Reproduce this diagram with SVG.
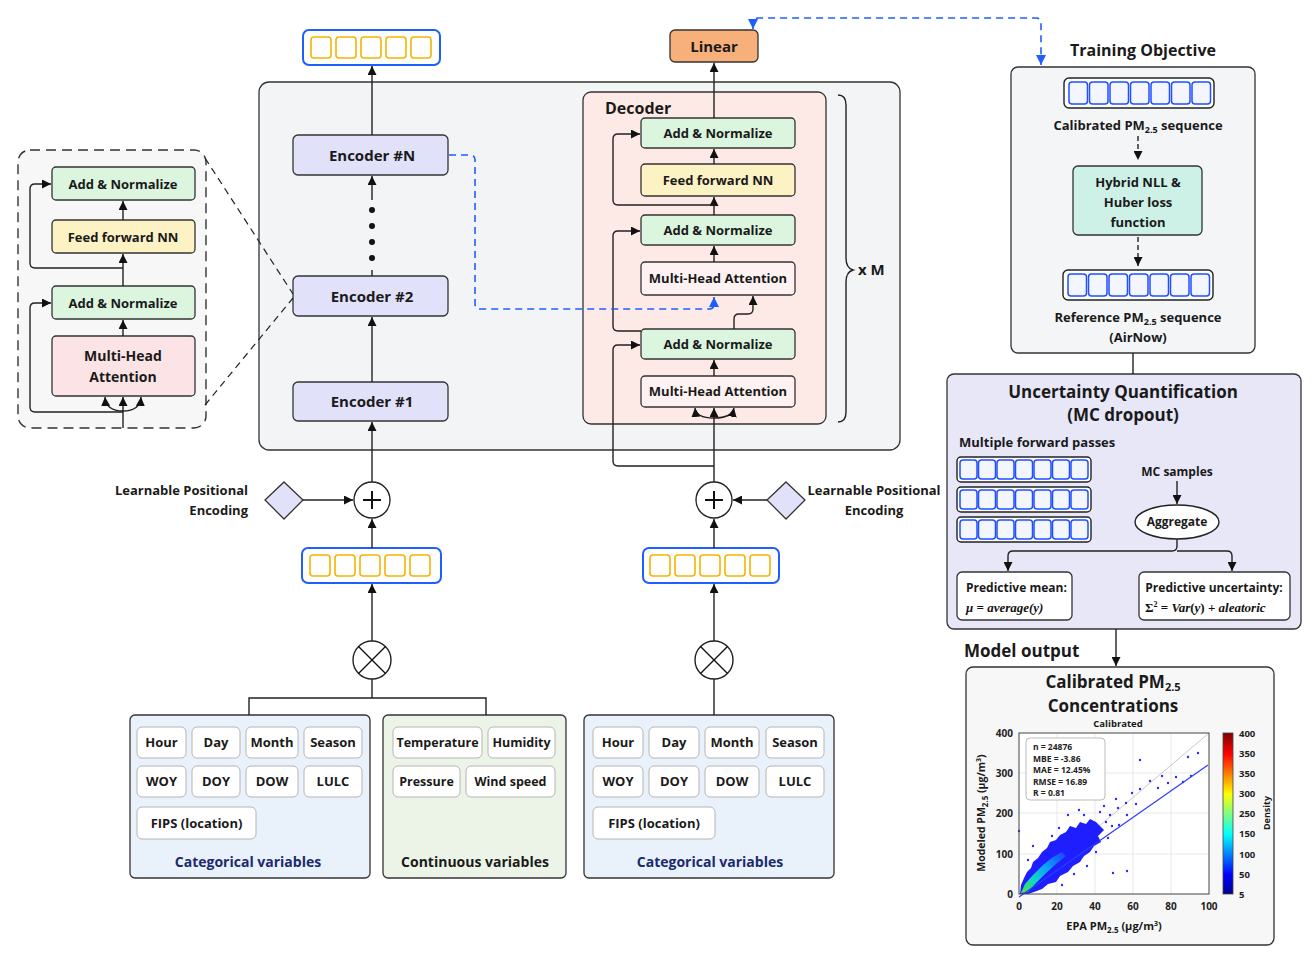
<svg xmlns="http://www.w3.org/2000/svg" width="1315" height="960" viewBox="0 0 1315 960">
<defs>
<style>
.t{font-family:"Open Sans","Noto Sans",sans-serif;font-weight:700;fill:#1a1a1a;text-anchor:middle}
.box{stroke:#333;stroke-width:1.3}
.ln{stroke:#222;stroke-width:1.4;fill:none}
.bl{stroke:#1f5fff;stroke-width:1.6;fill:none;stroke-dasharray:7,5}
.green{fill:#dcf5df}
.yel{fill:#fdf2c4}
.enc{fill:#e1e1fa}
.chip{fill:#fff;stroke:#b5b5b5;stroke-width:1}
.ysq{fill:#fff;stroke:#f5b400;stroke-width:1.6}
.bsq{fill:#f4f6ff;stroke:#1f4fff;stroke-width:1.5}
.seqY{fill:#fff;stroke:#1f5fff;stroke-width:2}
.seqK{fill:#fff;stroke:#222;stroke-width:1.4}
.grid{stroke:#e2e2e2;stroke-width:0.8}
.tick{font-family:"Open Sans","Noto Sans",sans-serif;font-weight:700;font-size:10px;fill:#222}
</style>
<marker id="ar" viewBox="0 0 10 10" refX="10" refY="5" markerWidth="9" markerHeight="9" markerUnits="userSpaceOnUse" orient="auto-start-reverse"><path d="M0,0 L10,5 L0,10 z" fill="#111"/></marker>
<marker id="arb" viewBox="0 0 10 10" refX="10" refY="5" markerWidth="10" markerHeight="10" markerUnits="userSpaceOnUse" orient="auto-start-reverse"><path d="M0,0 L10,5 L0,10 z" fill="#1f5fff"/></marker>
<linearGradient id="jet" x1="0" y1="1" x2="0" y2="0">
<stop offset="0" stop-color="#00008f"/><stop offset="0.12" stop-color="#0000ff"/><stop offset="0.37" stop-color="#00ffff"/><stop offset="0.5" stop-color="#80ff80"/><stop offset="0.62" stop-color="#ffff00"/><stop offset="0.87" stop-color="#ff0000"/><stop offset="1" stop-color="#800000"/>
</linearGradient>
<linearGradient id="blob" x1="0" y1="1" x2="1" y2="0">
<stop offset="0" stop-color="#50e040"/><stop offset="0.3" stop-color="#10d8c0"/><stop offset="0.6" stop-color="#10a0ff"/><stop offset="1" stop-color="#1a3cff"/>
</linearGradient>
</defs>
<rect width="1315" height="960" fill="#fff"/>

<g id="main-box"><rect x="259" y="82" width="641" height="368" rx="10" fill="#f3f4f5" class="box"/></g>

<g id="decoder"><rect x="583" y="92" width="243" height="332" rx="8" fill="#fde9e5" class="box"/>
<text x="605" y="114" class="t" style="text-anchor:start;font-size:16px">Decoder</text></g>
<g id="brace"><path d="M838,95 Q846,95 846,105 L846,258 Q846,268 853,270 Q846,272 846,282 L846,412 Q846,422 838,422" class="ln"/>
<text x="858" y="275" class="t" style="text-anchor:start;font-size:15px">x M</text></g>

<g id="enc-out"><rect x="303" y="30" width="137" height="35" rx="6" class="seqY"/>
<rect x="311" y="37" width="20" height="21" rx="3" class="ysq"/><rect x="336" y="37" width="20" height="21" rx="3" class="ysq"/><rect x="361" y="37" width="20" height="21" rx="3" class="ysq"/><rect x="386" y="37" width="20" height="21" rx="3" class="ysq"/><rect x="411" y="37" width="20" height="21" rx="3" class="ysq"/></g>

<g id="linear"><rect x="670" y="30" width="88" height="32" rx="5" fill="#f7b07a" class="box"/><text x="714" y="52" class="t" style="font-size:15px">Linear</text></g>

<g id="encN"><rect x="293" y="135" width="155" height="40" rx="5" class="enc box"/><text x="372" y="161" class="t" style="font-size:15px">Encoder #N</text></g>
<g id="enc2"><rect x="293" y="276" width="155" height="40" rx="5" class="enc box"/><text x="372" y="302" class="t" style="font-size:15px">Encoder #2</text></g>
<g id="enc1"><rect x="293" y="382" width="155" height="39" rx="5" class="enc box"/><text x="372" y="407" class="t" style="font-size:15px">Encoder #1</text></g>
<g id="dots" fill="#111"><circle cx="372" cy="210" r="3"/><circle cx="372" cy="226" r="3"/><circle cx="372" cy="242" r="3"/><circle cx="372" cy="258" r="3"/></g>

<g id="d-an1"><rect x="641" y="118" width="154" height="30" rx="4" class="green box"/><text x="718" y="138" class="t" style="font-size:13px">Add &amp; Normalize</text></g>
<g id="d-ff"><rect x="641" y="164" width="154" height="32" rx="4" class="yel box"/><text x="718" y="185" class="t" style="font-size:13px">Feed forward NN</text></g>
<g id="d-an2"><rect x="641" y="215" width="154" height="30" rx="4" class="green box"/><text x="718" y="235" class="t" style="font-size:13px">Add &amp; Normalize</text></g>
<g id="d-mha2"><rect x="641" y="262" width="154" height="33" rx="4" fill="#fdf2f1" class="box"/><text x="718" y="283" class="t" style="font-size:13px">Multi-Head Attention</text></g>
<g id="d-an3"><rect x="641" y="329" width="154" height="30" rx="4" class="green box"/><text x="718" y="349" class="t" style="font-size:13px">Add &amp; Normalize</text></g>
<g id="d-mha1"><rect x="641" y="376" width="154" height="31" rx="4" fill="#fdf2f1" class="box"/><text x="718" y="396" class="t" style="font-size:13px">Multi-Head Attention</text></g>

<g id="enc-detail"><rect x="18" y="150" width="188" height="278" rx="12" fill="#f7f7f8" stroke="#333" stroke-width="1.4" stroke-dasharray="10,6"/></g>
<g id="e-an1"><rect x="52" y="167" width="143" height="33" rx="4" class="green box"/><text x="123" y="189" class="t" style="font-size:13px">Add &amp; Normalize</text></g>
<g id="e-ff"><rect x="52" y="220" width="143" height="33" rx="4" class="yel box"/><text x="123" y="242" class="t" style="font-size:13px">Feed forward NN</text></g>
<g id="e-an2"><rect x="52" y="286" width="143" height="33" rx="4" class="green box"/><text x="123" y="308" class="t" style="font-size:13px">Add &amp; Normalize</text></g>
<g id="e-mha"><rect x="52" y="336" width="143" height="60" rx="4" fill="#fbe3e6" class="box"/><text x="123" y="361" class="t" style="font-size:14px">Multi-Head</text><text x="123" y="382" class="t" style="font-size:14px">Attention</text></g>

<g id="plusL"><circle cx="372" cy="500" r="18" fill="#fff" stroke="#222" stroke-width="1.4"/><path d="M363,500 H381 M372,491 V509" stroke="#111" stroke-width="2"/></g>
<g id="plusR"><circle cx="714" cy="500" r="18" fill="#fff" stroke="#222" stroke-width="1.4"/><path d="M705,500 H723 M714,491 V509" stroke="#111" stroke-width="2"/></g>
<g id="posL"><path d="M284,482 L303,500 L284,519 L265,500 Z" fill="#e1e1fa" class="box"/>
<text x="248" y="495" class="t" style="text-anchor:end;font-size:13px">Learnable Positional</text><text x="248" y="515" class="t" style="text-anchor:end;font-size:13px">Encoding</text></g>
<g id="posR"><path d="M786,482 L805,500 L786,519 L767,500 Z" fill="#e1e1fa" class="box"/>
<text x="874" y="495" class="t" style="font-size:13px">Learnable Positional</text><text x="874" y="515" class="t" style="font-size:13px">Encoding</text></g>

<g id="inL"><rect x="302" y="548" width="139" height="35" rx="6" class="seqY"/>
<rect x="310" y="555" width="20" height="21" rx="3" class="ysq"/><rect x="335" y="555" width="20" height="21" rx="3" class="ysq"/><rect x="360" y="555" width="20" height="21" rx="3" class="ysq"/><rect x="385" y="555" width="20" height="21" rx="3" class="ysq"/><rect x="410" y="555" width="20" height="21" rx="3" class="ysq"/></g>
<g id="inR"><rect x="643" y="548" width="136" height="35" rx="6" class="seqY"/>
<rect x="650" y="555" width="20" height="21" rx="3" class="ysq"/><rect x="675" y="555" width="20" height="21" rx="3" class="ysq"/><rect x="700" y="555" width="20" height="21" rx="3" class="ysq"/><rect x="725" y="555" width="20" height="21" rx="3" class="ysq"/><rect x="750" y="555" width="20" height="21" rx="3" class="ysq"/></g>

<g id="otL"><circle cx="372" cy="660" r="19" fill="#fff" stroke="#222" stroke-width="1.4"/><path d="M358.5,646.5 L385.5,673.5 M385.5,646.5 L358.5,673.5" stroke="#111" stroke-width="1.4"/></g>
<g id="otR"><circle cx="714" cy="660" r="19" fill="#fff" stroke="#222" stroke-width="1.4"/><path d="M700.5,646.5 L727.5,673.5 M727.5,646.5 L700.5,673.5" stroke="#111" stroke-width="1.4"/></g>

<g id="catL"><rect x="130" y="715" width="240" height="163" rx="5" fill="#e9f1fb" class="box"/>
<rect x="137" y="727" width="49" height="31" rx="5" class="chip"/><text x="161.5" y="747" class="t" style="font-size:13px">Hour</text>
<rect x="192" y="727" width="48" height="31" rx="5" class="chip"/><text x="216" y="747" class="t" style="font-size:13px">Day</text>
<rect x="246" y="727" width="52" height="31" rx="5" class="chip"/><text x="272" y="747" class="t" style="font-size:13px">Month</text>
<rect x="304" y="727" width="58" height="31" rx="5" class="chip"/><text x="333" y="747" class="t" style="font-size:13px">Season</text>
<rect x="137" y="766" width="49" height="31" rx="5" class="chip"/><text x="161.5" y="786" class="t" style="font-size:13px">WOY</text>
<rect x="192" y="766" width="48" height="31" rx="5" class="chip"/><text x="216" y="786" class="t" style="font-size:13px">DOY</text>
<rect x="246" y="766" width="52" height="31" rx="5" class="chip"/><text x="272" y="786" class="t" style="font-size:13px">DOW</text>
<rect x="304" y="766" width="58" height="31" rx="5" class="chip"/><text x="333" y="786" class="t" style="font-size:13px">LULC</text>
<rect x="137" y="807" width="119" height="32" rx="5" class="chip"/><text x="196.5" y="828" class="t" style="font-size:13px">FIPS (location)</text>
<text x="248" y="867" class="t" style="font-size:14px;fill:#1c2a6e">Categorical variables</text></g>

<g id="cont"><rect x="383" y="715" width="183" height="163" rx="5" fill="#ebf4e6" class="box"/>
<rect x="393" y="727" width="89" height="31" rx="5" class="chip"/><text x="437.5" y="747" class="t" style="font-size:12.5px">Temperature</text>
<rect x="488" y="727" width="67" height="31" rx="5" class="chip"/><text x="521.5" y="747" class="t" style="font-size:12.5px">Humidity</text>
<rect x="393" y="766" width="67" height="31" rx="5" class="chip"/><text x="426.5" y="786" class="t" style="font-size:12.5px">Pressure</text>
<rect x="466" y="766" width="89" height="31" rx="5" class="chip"/><text x="510.5" y="786" class="t" style="font-size:12.5px">Wind speed</text>
<text x="475" y="867" class="t" style="font-size:14px">Continuous variables</text></g>

<g id="catR"><rect x="584" y="715" width="250" height="163" rx="5" fill="#e9f1fb" class="box"/>
<rect x="593" y="727" width="50" height="31" rx="5" class="chip"/><text x="618" y="747" class="t" style="font-size:13px">Hour</text>
<rect x="649" y="727" width="50" height="31" rx="5" class="chip"/><text x="674" y="747" class="t" style="font-size:13px">Day</text>
<rect x="705" y="727" width="54" height="31" rx="5" class="chip"/><text x="732" y="747" class="t" style="font-size:13px">Month</text>
<rect x="766" y="727" width="58" height="31" rx="5" class="chip"/><text x="795" y="747" class="t" style="font-size:13px">Season</text>
<rect x="593" y="766" width="50" height="31" rx="5" class="chip"/><text x="618" y="786" class="t" style="font-size:13px">WOY</text>
<rect x="649" y="766" width="50" height="31" rx="5" class="chip"/><text x="674" y="786" class="t" style="font-size:13px">DOY</text>
<rect x="705" y="766" width="54" height="31" rx="5" class="chip"/><text x="732" y="786" class="t" style="font-size:13px">DOW</text>
<rect x="766" y="766" width="58" height="31" rx="5" class="chip"/><text x="795" y="786" class="t" style="font-size:13px">LULC</text>
<rect x="593" y="807" width="122" height="32" rx="5" class="chip"/><text x="654" y="828" class="t" style="font-size:13px">FIPS (location)</text>
<text x="710" y="867" class="t" style="font-size:14px;fill:#1c2a6e">Categorical variables</text></g>

<g id="training"><text x="1143" y="56" class="t" style="font-size:16px">Training Objective</text>
<rect x="1011" y="67" width="244" height="286" rx="7" fill="#f4f5f6" class="box"/>
<rect x="1064" y="78" width="150" height="30" rx="5" class="seqK"/>
<g class="bsq"><rect x="1069" y="82" width="18.5" height="22" rx="3"/><rect x="1089.5" y="82" width="18.5" height="22" rx="3"/><rect x="1110" y="82" width="18.5" height="22" rx="3"/><rect x="1130.5" y="82" width="18.5" height="22" rx="3"/><rect x="1151" y="82" width="18.5" height="22" rx="3"/><rect x="1171.5" y="82" width="18.5" height="22" rx="3"/><rect x="1192" y="82" width="18.5" height="22" rx="3"/></g>
<text x="1138" y="130" class="t" style="font-size:13px">Calibrated PM<tspan font-size="9" dy="3">2.5</tspan><tspan dy="-3"> sequence</tspan></text>
<rect x="1073" y="166" width="129" height="69" rx="5" fill="#cdf1e7" class="box"/>
<text x="1138" y="187" class="t" style="font-size:13px">Hybrid NLL &amp;</text><text x="1138" y="207" class="t" style="font-size:13px">Huber loss</text><text x="1138" y="227" class="t" style="font-size:13px">function</text>
<rect x="1063" y="270" width="150" height="30" rx="5" class="seqK"/>
<g class="bsq"><rect x="1068" y="274" width="18.5" height="22" rx="3"/><rect x="1088.5" y="274" width="18.5" height="22" rx="3"/><rect x="1109" y="274" width="18.5" height="22" rx="3"/><rect x="1129.5" y="274" width="18.5" height="22" rx="3"/><rect x="1150" y="274" width="18.5" height="22" rx="3"/><rect x="1170.5" y="274" width="18.5" height="22" rx="3"/><rect x="1191" y="274" width="18.5" height="22" rx="3"/></g>
<text x="1138" y="322" class="t" style="font-size:13px">Reference PM<tspan font-size="9" dy="3">2.5</tspan><tspan dy="-3"> sequence</tspan></text>
<text x="1138" y="342" class="t" style="font-size:13px">(AirNow)</text></g>

<g id="uncertainty"><rect x="947" y="374" width="354" height="255" rx="7" fill="#e7e7f8" class="box"/>
<text x="1123" y="398" class="t" style="font-size:17px">Uncertainty Quantification</text>
<text x="1123" y="421" class="t" style="font-size:17px">(MC dropout)</text>
<text x="959" y="447" class="t" style="text-anchor:start;font-size:13px">Multiple forward passes</text>
<rect x="957" y="457" width="134" height="25" rx="4" class="seqK"/>
<rect x="957" y="487" width="134" height="25" rx="4" class="seqK"/>
<rect x="957" y="517" width="134" height="25" rx="4" class="seqK"/>
<g class="bsq">
<rect x="960" y="460" width="17" height="19" rx="3"/><rect x="978.5" y="460" width="17" height="19" rx="3"/><rect x="997" y="460" width="17" height="19" rx="3"/><rect x="1015.5" y="460" width="17" height="19" rx="3"/><rect x="1034" y="460" width="17" height="19" rx="3"/><rect x="1052.5" y="460" width="17" height="19" rx="3"/><rect x="1071" y="460" width="17" height="19" rx="3"/>
<rect x="960" y="490" width="17" height="19" rx="3"/><rect x="978.5" y="490" width="17" height="19" rx="3"/><rect x="997" y="490" width="17" height="19" rx="3"/><rect x="1015.5" y="490" width="17" height="19" rx="3"/><rect x="1034" y="490" width="17" height="19" rx="3"/><rect x="1052.5" y="490" width="17" height="19" rx="3"/><rect x="1071" y="490" width="17" height="19" rx="3"/>
<rect x="960" y="520" width="17" height="19" rx="3"/><rect x="978.5" y="520" width="17" height="19" rx="3"/><rect x="997" y="520" width="17" height="19" rx="3"/><rect x="1015.5" y="520" width="17" height="19" rx="3"/><rect x="1034" y="520" width="17" height="19" rx="3"/><rect x="1052.5" y="520" width="17" height="19" rx="3"/><rect x="1071" y="520" width="17" height="19" rx="3"/>
</g>
<text x="1177" y="476" class="t" style="font-size:12px">MC samples</text>
<ellipse cx="1177" cy="522" rx="42" ry="17" fill="#fff" stroke="#222" stroke-width="1.4"/>
<text x="1177" y="526" class="t" style="font-size:12px">Aggregate</text>
<rect x="957" y="572" width="115" height="48" rx="5" fill="#fff" class="box"/>
<text x="966" y="592" class="t" style="text-anchor:start;font-size:12px">Predictive mean:</text>
<text x="966" y="612" style="font-family:'Liberation Serif',serif;font-style:italic;font-weight:bold;font-size:13px;fill:#111">μ = average(y)</text>
<rect x="1139" y="572" width="151" height="48" rx="5" fill="#fff" class="box"/>
<text x="1214" y="592" class="t" style="font-size:12px">Predictive uncertainty:</text>
<text x="1145" y="612" style="font-family:'Liberation Serif',serif;font-weight:bold;font-size:13px;fill:#111">Σ<tspan font-size="8" dy="-5">2</tspan><tspan dy="5"> = </tspan><tspan font-style="italic">Var</tspan>(<tspan font-style="italic">y</tspan>) + <tspan font-style="italic">aleatoric</tspan></text></g>

<g id="model-output"><text x="964" y="657" class="t" style="text-anchor:start;font-size:17px">Model output</text>
<rect x="966" y="667" width="308" height="278" rx="7" fill="#f7f7f7" class="box"/>
<text x="1113" y="688" class="t" style="font-size:17px">Calibrated PM<tspan font-size="11" dy="3">2.5</tspan></text>
<text x="1113" y="712" class="t" style="font-size:17px">Concentrations</text>
<text x="1118" y="727" class="t" style="font-size:9.5px">Calibrated</text>
<rect x="1019" y="733" width="190" height="161" fill="#fff"/>
<g class="grid"><path d="M1057,733 V894 M1095,733 V894 M1133,733 V894 M1171,733 V894 M1019,773 H1209 M1019,813 H1209 M1019,854 H1209"/></g>
<line x1="1019" y1="894" x2="1209" y2="733" stroke="#c8c8c8" stroke-width="1"/>
<path d="M1020,894 L1021,885 L1024,878 L1027,872 L1031,868 L1033,862 L1038,858 L1042,852 L1047,848 L1050,842 L1056,840 L1060,835 L1066,832 L1070,826 L1076,828 L1080,822 L1086,824 L1090,819 L1096,822 L1100,826 L1104,830 L1098,836 L1101,842 L1094,846 L1090,852 L1084,856 L1080,862 L1073,866 L1068,872 L1060,876 L1056,882 L1048,884 L1042,889 L1034,892 L1028,894 Z" fill="#1e1eff"/>
<path d="M1021,893 L1025,884 L1033,875 L1043,865 L1053,857 L1062,852 L1066,856 L1056,864 L1045,874 L1035,884 L1028,892 Z" fill="url(#blob)"/>
<g fill="#2a2aff"><circle cx="1110" cy="815" r="1.2"/><circle cx="1118" cy="808" r="1.2"/><circle cx="1126" cy="803" r="1.2"/><circle cx="1132" cy="793" r="1.2"/><circle cx="1140" cy="789" r="1.2"/><circle cx="1150" cy="781" r="1.2"/><circle cx="1158" cy="788" r="1.2"/><circle cx="1162" cy="776" r="1.2"/><circle cx="1168" cy="783" r="1.2"/><circle cx="1176" cy="777" r="1.2"/><circle cx="1188" cy="757" r="1.2"/><circle cx="1198" cy="753" r="1.2"/><circle cx="1191" cy="776" r="1.2"/><circle cx="1183" cy="782" r="1.2"/><circle cx="1127" cy="815" r="1.2"/><circle cx="1119" cy="825" r="1.2"/><circle cx="1113" cy="873" r="1.2"/><circle cx="1127" cy="871" r="1.2"/><circle cx="1140" cy="760" r="1.2"/><circle cx="1116" cy="799" r="1.2"/><circle cx="1100" cy="812" r="1.2"/><circle cx="1068" cy="815" r="1.2"/><circle cx="1033" cy="846" r="1.2"/><circle cx="1019" cy="831" r="1.2"/><circle cx="1104" cy="806" r="1.2"/><circle cx="1136" cy="804" r="1.2"/><circle cx="1108" cy="838" r="1.2"/><circle cx="1112" cy="826" r="1.2"/><circle cx="1084" cy="815" r="1.2"/><circle cx="1059" cy="828" r="1.2"/><circle cx="1052" cy="836" r="1.2"/><circle cx="1028" cy="860" r="1.2"/><circle cx="1087" cy="866" r="1.2"/><circle cx="1074" cy="874" r="1.2"/><circle cx="1096" cy="852" r="1.2"/><circle cx="1062" cy="885" r="1.2"/><circle cx="1079" cy="810" r="1.2"/><circle cx="1106" cy="822" r="1.2"/></g>
<line x1="1019" y1="897" x2="1208" y2="765" stroke="#2a3cff" stroke-width="1.2"/>
<rect x="1026" y="738" width="79" height="62" rx="4" fill="#fff" stroke="#bdbdbd" stroke-width="1"/>
<g style="font-family:'Open Sans','Noto Sans',sans-serif;font-weight:700;font-size:8.5px;fill:#222"><text x="1033" y="750">n = 24876</text><text x="1033" y="761.5">MBE = -3.86</text><text x="1033" y="773">MAE = 12.45%</text><text x="1033" y="784.5">RMSE = 16.89</text><text x="1033" y="796">R = 0.81</text></g>
<rect x="1019" y="733" width="190" height="161" fill="none" stroke="#444" stroke-width="1"/>
<g class="tick" text-anchor="end"><text x="1013" y="737">400</text><text x="1013" y="777">300</text><text x="1013" y="817">200</text><text x="1013" y="858">100</text><text x="1013" y="898">0</text></g>
<g class="tick" text-anchor="middle"><text x="1019" y="910">0</text><text x="1057" y="910">20</text><text x="1095" y="910">40</text><text x="1133" y="910">60</text><text x="1171" y="910">80</text><text x="1209" y="910">100</text></g>
<text x="0" y="0" transform="translate(985,813) rotate(-90)" class="t" style="font-size:10.5px">Modeled PM<tspan font-size="8" dy="2.5">2.5</tspan><tspan dy="-2.5"> (μg/m</tspan><tspan font-size="7" dy="-4">3</tspan><tspan dy="4">)</tspan></text>
<text x="1114" y="930" class="t" style="font-size:11px">EPA PM<tspan font-size="8" dy="2.5">2.5</tspan><tspan dy="-2.5"> (μg/m</tspan><tspan font-size="7" dy="-4">3</tspan><tspan dy="4">)</tspan></text>
<rect x="1223" y="733" width="10" height="161" fill="url(#jet)" stroke="#444" stroke-width="0.8"/>
<g class="tick" style="font-size:9.5px"><text x="1239" y="737">400</text><text x="1239" y="757">350</text><text x="1239" y="777">350</text><text x="1239" y="797">300</text><text x="1239" y="817">250</text><text x="1239" y="837">150</text><text x="1239" y="858">100</text><text x="1239" y="878">50</text><text x="1239" y="898">5</text></g>
<text x="0" y="0" transform="translate(1270,813) rotate(-90)" class="t" style="font-size:9px">Density</text></g>

<g id="connectors">
<path d="M372,135 V66" class="ln" marker-end="url(#ar)"/>
<path d="M372,200 V176" class="ln" marker-end="url(#ar)"/>
<path d="M372,276 V270" class="ln"/>
<path d="M372,382 V317" class="ln" marker-end="url(#ar)"/>
<path d="M372,482 V422" class="ln" marker-end="url(#ar)"/>
<path d="M372,548 V519" class="ln" marker-end="url(#ar)"/>
<path d="M303,500 H353" class="ln" marker-end="url(#ar)"/>
<path d="M372,641 V584" class="ln" marker-end="url(#ar)"/>
<path d="M372,679 V698 M249,715 V698 H486 V715" class="ln"/>
<path d="M714,548 V519" class="ln" marker-end="url(#ar)"/>
<path d="M767,500 H733" class="ln" marker-end="url(#ar)"/>
<path d="M714,641 V584" class="ln" marker-end="url(#ar)"/>
<path d="M714,679 V715" class="ln"/>
<path d="M714,482 V408" class="ln" marker-end="url(#ar)"/>
<path d="M714,418 Q696,418 695,408" class="ln" marker-end="url(#ar)"/>
<path d="M714,418 Q732,418 734,408" class="ln" marker-end="url(#ar)"/>
<path d="M714,376 V360" class="ln" marker-end="url(#ar)"/>
<path d="M734,329 V319 Q734,314 739,314 H748 Q753,314 753,309 V296" class="ln" marker-end="url(#ar)"/>
<path d="M714,262 V246" class="ln" marker-end="url(#ar)"/>
<path d="M714,215 V197" class="ln" marker-end="url(#ar)"/>
<path d="M714,164 V149" class="ln" marker-end="url(#ar)"/>
<path d="M714,118 V63" class="ln" marker-end="url(#ar)"/>
<path d="M714,205 H618 Q613,205 613,200 V139 Q613,134 618,134 H640" class="ln" marker-end="url(#ar)"/>
<path d="M641,331 H618 Q613,331 613,326 V236 Q613,231 618,231 H640" class="ln" marker-end="url(#ar)"/>
<path d="M714,466 H618 Q613,466 613,461 V350 Q613,345 618,345 H640" class="ln" marker-end="url(#ar)"/>
<path d="M123,428 V397" class="ln" marker-end="url(#ar)"/>
<path d="M123,411 Q106,411 105,397" class="ln" marker-end="url(#ar)"/>
<path d="M123,411 Q140,411 141,397" class="ln" marker-end="url(#ar)"/>
<path d="M123,412 H35 Q30,412 30,407 V308 Q30,303 35,303 H51" class="ln" marker-end="url(#ar)"/>
<path d="M123,336 V320" class="ln" marker-end="url(#ar)"/>
<path d="M123,286 V254" class="ln" marker-end="url(#ar)"/>
<path d="M123,268 H35 Q30,268 30,263 V189 Q30,184 35,184 H51" class="ln" marker-end="url(#ar)"/>
<path d="M123,220 V201" class="ln" marker-end="url(#ar)"/>
<path d="M205,158 L293,294 M205,405 L293,298" stroke="#222" stroke-width="1.2" fill="none" stroke-dasharray="7,5"/>
<path d="M449,155 H470 Q475,155 475,160 V304 Q475,309 480,309 H709 Q714,309 714,304 V297" class="bl" marker-end="url(#arb)"/>
<path d="M753,29 V23 Q753,18 758,18 H1036 Q1041,18 1041,23 V65" class="bl" marker-start="url(#arb)" marker-end="url(#arb)"/>
<path d="M1138,136 V160" class="ln" stroke-dasharray="5,3" marker-end="url(#ar)"/>
<path d="M1138,237 V266" class="ln" stroke-dasharray="5,3" marker-end="url(#ar)"/>
<path d="M1133,353 V374" class="ln"/>
<path d="M1177,481 V504" class="ln" marker-end="url(#ar)"/>
<path d="M1177,539 V546 Q1177,551 1172,551 H1013 Q1008,551 1008,556 V571" class="ln" marker-end="url(#ar)"/>
<path d="M1177,551 H1227 Q1232,551 1232,556 V571" class="ln" marker-end="url(#ar)"/>
<path d="M1116,629 V666" class="ln" marker-end="url(#ar)"/>
</g>
</svg>
